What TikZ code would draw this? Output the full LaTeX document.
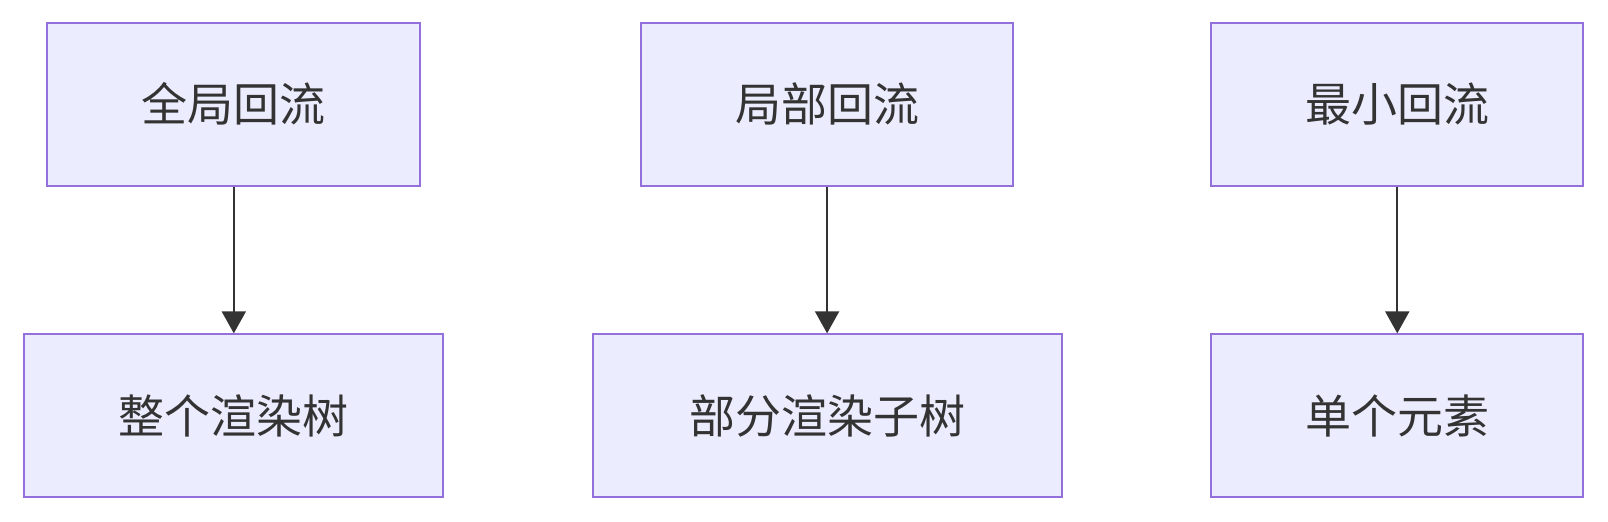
\documentclass[tikz,border=0pt]{standalone}
\usepackage{fontspec}
\setmainfont{Noto Sans CJK SC}
\usetikzlibrary{arrows.meta}
\definecolor{boxfill}{HTML}{ECECFF}
\definecolor{boxline}{HTML}{9370DB}
\definecolor{ink}{HTML}{333333}
\begin{document}
\begin{tikzpicture}[x=1.0255pt,y=-1.0255pt,
  box/.style={draw=boxline,fill=boxfill,line width=2pt,minimum height=163pt,
    text=ink,font=\fontsize{46}{54}\selectfont,inner sep=0pt},
  flow/.style={draw=ink,line width=2pt,-{Triangle[length=22pt,width=24pt]}}
  ]
\useasboundingbox (0,0) rectangle (1568,509);
\node[box,minimum width=373pt] (global) at (228,101.5) {全局回流};
\node[box,minimum width=372pt] (local) at (806.5,101.5) {局部回流};
\node[box,minimum width=372pt] (minimal) at (1362.5,101.5) {最小回流};
\node[box,minimum width=419pt] (whole) at (227.5,405.5) {整个渲染树};
\node[box,minimum width=469pt] (subtree) at (806.5,405.5) {部分渲染子树};
\node[box,minimum width=372pt] (single) at (1362.5,405.5) {单个元素};
\draw[flow] (global) -- (global |- whole.north);
\draw[flow] (local) -- (subtree);
\draw[flow] (minimal) -- (single);
\end{tikzpicture}
\end{document}
